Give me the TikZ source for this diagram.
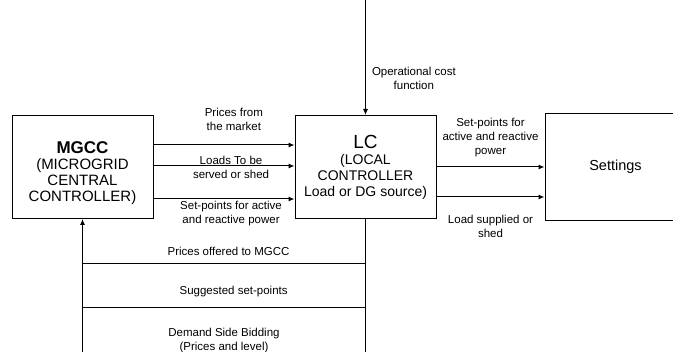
\documentclass[tikz,border=0pt]{standalone}
\usepackage{fontspec}
\setmainfont{Liberation Sans}
\usetikzlibrary{
    arrows.meta,
    positioning
}

\begin{document}
\begin{tikzpicture}[
    x=1pt, y=1pt,
    ctrlbox/.style={
        rectangle,
        draw,
        line width=1pt,
        align=center,
        minimum width=141pt,
        minimum height=103pt,
        inner sep=0pt,
        font=\fontsize{15}{16}\selectfont
    },
    lbl/.style={
        align=center,
        inner sep=2pt,
        font=\fontsize{11.5}{14}\selectfont
    },
    arrow/.style={
        -{Latex[length=6pt,width=5pt]},
        line width=1pt
    },
    link/.style={
        line width=1pt
    }
]

\useasboundingbox (0,0) rectangle (673,-352);

\node[ctrlbox] (mgcc) at (82.5,-167) {{\fontsize{17}{18}\selectfont\bfseries\rule{0pt}{24pt}MGCC}\\(MICROGRID\\CENTRAL\\CONTROLLER)};
\node[ctrlbox, right=141pt of mgcc, font=\fontsize{14}{16}\selectfont] (lc) {{\fontsize{19}{20}\selectfont LC}\\(LOCAL\\CONTROLLER\\Load or DG source)};
\node[ctrlbox, right=108pt of lc, minimum height=107pt, font=\fontsize{14.5}{16}\selectfont] (settings) {Settings};

% Entrada desde arriba
\coordinate (optop) at (lc.north |- 0,0);
\draw[arrow] (optop) -- node[lbl, right, pos=0.68, xshift=4pt]{Operational cost\\function} (lc.north);

% MGCC hacia LC
\draw[arrow] ([yshift=22pt]mgcc.east) -- node[lbl, above=12pt, pos=0.57]{Prices from\\the market} ([yshift=22pt]mgcc.east -| lc.west);
\draw[arrow] ([yshift=1pt]mgcc.east) -- node[lbl, pos=0.55, yshift=-1pt]{Loads To be\\served or shed} ([yshift=1pt]mgcc.east -| lc.west);
\draw[arrow] ([yshift=-32pt]mgcc.east) -- node[lbl, below, pos=0.55]{Set-points for active\\and reactive power} ([yshift=-32pt]mgcc.east -| lc.west);

% LC hacia Settings
\draw[arrow] (lc.east) -- node[lbl, above=8pt]{Set-points for\\active and reactive\\power} (lc.east -| settings.west);
\draw[arrow] ([yshift=-30pt]lc.east) -- node[lbl, below=16pt]{Load supplied or\\shed} ([yshift=-30pt]lc.east -| settings.west);

% Retorno hacia MGCC
\coordinate (lcbot) at (lc.south |- 0,-352);
\coordinate (mgbot) at (mgcc.south |- 0,-352);
\coordinate (offerl) at (mgcc.south |- 0,-264);
\coordinate (offerr) at (lc.south |- 0,-264);
\coordinate (suggl) at (mgcc.south |- 0,-308);
\coordinate (suggr) at (lc.south |- 0,-308);
\draw[link] (lc.south) -- (lcbot);
\draw[arrow] (mgbot) -- (mgcc.south);
\draw[link] (offerl) -- node[lbl, above=6pt, pos=0.516]{Prices offered to MGCC} (offerr);
\draw[link] (suggl) -- node[lbl, above=9pt, pos=0.534]{Suggested set-points}
    node[lbl, below=18pt, pos=0.5]{Demand Side Bidding\\(Prices and level)} (suggr);

\end{tikzpicture}
\end{document}
